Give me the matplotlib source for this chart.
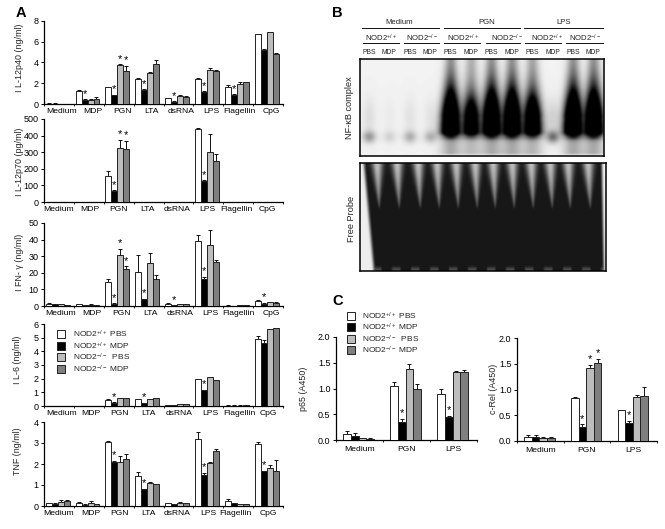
import numpy as np
import matplotlib
matplotlib.use('Agg')
import matplotlib.pyplot as plt
from matplotlib.patches import Rectangle

plt.rcParams['font.family'] = ['Liberation Sans', 'DejaVu Sans']
plt.rcParams['mathtext.default'] = 'regular'
plt.rcParams['text.color'] = '#222222'

W, H = 665, 529

stimuli = ['Medium', 'MDP', 'PGN', 'LTA', 'dsRNA', 'LPS', 'Flagellin', 'CpG']
stimuli_c = ['Medium', 'PGN', 'LPS']
legend_labels = ['NOD2$^{+/+}$ PBS', 'NOD2$^{+/+}$ MDP', 'NOD2$^{-/-}$  PBS', 'NOD2$^{-/-}$ MDP']
bar_colors = ['#ffffff', '#000000', '#bdbdbd', '#7f7f7f']

il12p40 = [[.03, .03, .03, .03], [1.3, .42, .42, .45], [1.65, .85, 3.8, 3.2], [2.45, 1.35, 2.95, 3.9],
           [.55, .2, .75, .65], [2.4, 1.2, 3.25, 3.2], [1.65, .85, 1.9, 2.1], [6.75, 5.2, 6.9, 4.8]]
il12p40_err = [[.05, .02, .01, .01], [.03, .05, .03, .2], [.03, .05, .05, .5], [.03, .05, .1, .3],
               [.05, .05, .15, .08], [.08, .05, .25, .03], [.15, .08, .2, .05], [.03, .1, .05, .1]]
il12p40_stars = [(1, 1), (2, 1), (2, 2), (2, 3), (3, 1), (4, 1), (5, 1), (6, 1)]

il12p70 = [[0] * 4, [0] * 4, [158, 65, 325, 320], [0] * 4, [0] * 4, [442, 128, 300, 248], [0] * 4, [0] * 4]
il12p70_err = [[0] * 4, [0] * 4, [28, 5, 50, 50], [0] * 4, [0] * 4, [3, 3, 110, 40], [0] * 4, [0] * 4]
il12p70_stars = [(2, 1), (2, 2), (2, 3), (5, 1)]

ifng = [[1.5, 1, 1.3, .7], [1.2, .7, .9, .7], [14.5, 1.5, 30.5, 22.5], [20.5, 4, 26, 16.5],
        [1.5, .5, 1.2, 1.3], [39, 16.5, 36.5, 26.5], [.3, .2, .4, .4], [3.2, 1.5, 2.5, 2]]
ifng_err = [[.2, .2, .2, .1], [.2, .1, .1, .1], [1.5, .2, 4, 1.5], [10.5, .3, 6, 2],
            [.2, .1, .1, .1], [3.5, 1, 9, 1.5], [.05, .05, .05, .05], [.3, .5, .2, .2]]
ifng_stars = [(2, 1), (2, 2), (2, 3), (3, 1), (4, 1), (5, 1), (7, 1)]

il6 = [[0] * 4, [0] * 4, [.45, .25, .55, .6], [.5, .2, .5, .55],
       [.05, .05, .12, .17], [1.95, 1.15, 2.1, 1.9], [.03, .03, .03, .05], [4.9, 4.6, 5.6, 5.7]]
il6_err = [[0] * 4, [0] * 4, [.03, .03, .02, .02], [.02, .03, .02, .05],
           [.01, .01, .01, .01], [.05, .03, .03, .02], [.01, .01, .01, .03], [.25, .2, .06, .03]]
il6_stars = [(2, 1), (3, 1), (5, 1)]

tnf = [[.12, .1, .18, .22], [.15, .07, .14, .08], [3.05, 2.1, 2.1, 2.22], [1.45, .8, 1.1, 1.05],
       [.12, .08, .15, .12], [3.2, 1.48, 2.05, 2.62], [.22, .12, .1, .1], [2.95, 1.65, 1.8, 1.65]]
tnf_err = [[.02, .02, .1, .05], [.03, .02, .1, .02], [.03, .05, .3, .25], [.15, .03, .03, .02],
           [.02, .02, .02, .03], [.32, .1, .03, .08], [.12, .01, .01, .01], [.12, .03, .15, .55]]
tnf_stars = [(2, 1), (3, 1), (5, 1), (7, 1)]

p65 = [[.12, .08, .03, .02], [1.05, .35, 1.38, 1.0], [.9, .44, 1.33, 1.33]]
p65_err = [[.05, .05, .01, .01], [.08, .06, .1, .09], [.09, .03, .01, .02]]
p65_stars = [(1, 1), (2, 1)]

crel = [[.07, .07, .06, .05], [.83, .28, 1.42, 1.52], [.6, .35, .85, .87]]
crel_err = [[.04, .04, .02, .02], [.03, .05, .06, .08], [.01, .04, .04, .18]]
crel_stars = [(1, 1), (1, 2), (1, 3), (2, 1)]

# band strength of the 12 lanes in the gel
lane_strength = [.22, .08, .17, .16, 1.0, .75, 1.0, 1.0, .85, .32, 1.0, 1.0]
# centres of the pale wedges at the top of the free probe gel
wedge_x = [377, 397, 418, 437, 456, 475, 493, 512, 531, 550, 568, 588]

fig = plt.figure(figsize=(W / 100, H / 100), dpi=100)


def ax_px(left, top, right, bottom):
    return fig.add_axes([left / W, 1 - bottom / H, (right - left) / W, (bottom - top) / H])


def ftext(x, y, s, **kw):
    kw.setdefault('ha', 'center')
    kw.setdefault('va', 'center')
    kw.setdefault('fontsize', 6.2)
    return fig.text(x / W, 1 - y / H, s, **kw)


def soften(img, nx, ny):
    kx = np.hanning(nx + 2)[1:-1]
    ky = np.hanning(ny + 2)[1:-1]
    pad = max(nx, ny)
    out = np.pad(img, pad, mode='edge')
    out = np.apply_along_axis(lambda r: np.convolve(r, kx / kx.sum(), mode='same'), 1, out)
    out = np.apply_along_axis(lambda c: np.convolve(c, ky / ky.sum(), mode='same'), 0, out)
    return out[pad:-pad, pad:-pad]


def bar_panel(box, vals, errs, stars, ymax, yticks, ylabels, labels, label_off, start, bw, pad=3):
    ax = ax_px(*box)
    vals = np.array(vals, float)
    errs = np.array(errs, float)
    n = len(vals)
    for k in range(4):
        x = np.arange(n) + start + bw * k
        keep = vals[:, k] > 0
        ax.bar(x[keep], vals[keep, k], bw, align='edge', color=bar_colors[k], edgecolor='#222222', linewidth=.7, zorder=3)
        ax.errorbar(x[keep] + bw / 2, vals[keep, k], yerr=[0 * errs[keep, k], errs[keep, k]], fmt='none',
                    ecolor='#111111', elinewidth=.7, capsize=1.2, capthick=.7, zorder=2)
    for g, k in stars:
        ax.annotate('*', (g + start + bw * (k + .5), vals[g, k] + errs[g, k]), xytext=(0, .3),
                    textcoords='offset points', ha='center', va='bottom', fontsize=8, color='black', zorder=4)
    ax.set_xlim(0, n)
    ax.set_ylim(0, ymax)
    ax.set_yticks(yticks)
    ax.set_yticklabels(ylabels, fontsize=6.5)
    ax.set_xticks(np.arange(n + 1))
    ax.set_xticklabels([])
    ax.set_xticks(np.arange(n) + .5 + np.array(label_off), minor=True)
    ax.set_xticklabels(labels, minor=True, fontsize=6.1)
    ax.tick_params(axis='x', which='major', length=1.5, width=.6)
    ax.tick_params(axis='x', which='minor', length=0, pad=pad)
    ax.tick_params(axis='y', length=2.5, width=.7, pad=1.5)
    for s in ['top', 'right']:
        ax.spines[s].set_visible(False)
    for s in ['left', 'bottom']:
        ax.spines[s].set_linewidth(.9)
    ax.patch.set_alpha(0)
    return ax


def legend_box(x, ys, tx):
    for y, c, lab in zip(ys, bar_colors, legend_labels):
        fig.add_artist(Rectangle((x / W, 1 - (y + 3.7) / H), 7.5 / W, 7.5 / H, transform=fig.transFigure,
                                 facecolor=c, edgecolor='#222222', linewidth=.7))
        ftext(tx, y, lab, ha='left', fontsize=6)


def gel_top():
    ax = ax_px(360, 59, 604, 156)
    px = np.arange(244 * 2) / 2 + 360
    y = (np.arange(97 * 2) / 2 / 97)[:, None]
    light = np.ones((len(y), len(px)))
    for i, s in enumerate(lane_strength):
        xc = 369 + 20.4 * i
        if s > .5:
            wide = 6 + 4.5 * y
            lane = np.exp(-((px - xc) / wide) ** 2)
            core = 2.2 * s * np.exp(-((y - .68) / (.14 + .2 * s)) ** 2)
            core = np.where(y > .74, 2.2 * s * np.exp(-((y - .74) / .06) ** 2), core)
            smear = .36 * s * np.clip(1.2 - y, 0, 1) * (y < .6) + .3 * s * (y > .8) * (y < .98)
        else:
            lane = np.exp(-((px - xc) / 6.5) ** 2)
            core = 1.6 * s * np.exp(-((y - .80) / .06) ** 2)
            smear = .4 * s * np.exp(-((y - .6) / .2) ** 2)
        light *= 1 - np.clip(lane * (core + smear), 0, 1)
    img = soften(light * .95, 7, 9)
    ax.imshow(img, cmap='gray', vmin=0, vmax=1, aspect='auto', interpolation='bilinear')
    ax.set_xticks([])
    ax.set_yticks([])
    for s in ax.spines.values():
        s.set_linewidth(1.1)


def gel_free():
    ax = ax_px(360, 163, 606, 271)
    px = np.arange(246 * 2) / 2 + 360
    y = (np.arange(108 * 2) / 2 / 108)[:, None]
    wedge = np.zeros((len(y), len(px)))
    fade = np.clip(1 - y / .42, 0, 1)
    for xc in wedge_x:
        wid = 5 * fade + .6
        wedge = np.maximum(wedge, .68 * np.exp(-((px - xc - 5 * y) / wid) ** 2) * fade ** .45)
    edge_l = np.clip((366 + 10 * y - px) / 4, 0, 1)
    edge_r = np.clip((px - 600 - 2 * y) / 3, 0, 1)
    ripple = .22 * np.clip((y - .95) / .03, 0, 1) * (np.cos((px - 377) * 2 * np.pi / 19) > .2)
    img = .09 + wedge
    img = np.maximum(img, ripple + .09)
    img = np.maximum(img, .93 * np.maximum(edge_l, edge_r))
    img = soften(img, 5, 7)
    ax.imshow(img, cmap='gray', vmin=0, vmax=1, aspect='auto', interpolation='bilinear')
    ax.set_xticks([])
    ax.set_yticks([])
    for s in ax.spines.values():
        s.set_linewidth(1.1)


# panel A
bar_panel((44, 21, 283, 104), il12p40, il12p40_err, il12p40_stars, 8, [0, 2, 4, 6, 8], ['0', '2', '4', '6', '8'],
          stimuli, [.1, .13, .13, .1, .1, .1, .03, .1], .057, .2)
bar_panel((44, 119, 283, 202), il12p70, il12p70_err, il12p70_stars, 500, [0, 100, 200, 300, 400, 500],
          ['0', '100', '200', '300', '400', '500'], stimuli, [0, .03, 0, -.03, -.03, -.03, -.07, -.03], .057, .2)
bar_panel((44, 223, 283, 306), ifng, ifng_err, ifng_stars, 50, [0, 10, 20, 30, 40, 50],
          ['0', '10', '20', '30', '40', '50'], stimuli, [.07, .1, .1, .07, .07, .07, 0, .1], .057, .2)
bar_panel((44, 324, 283, 406), il6, il6_err, il6_stars, 6, range(7), [str(i) for i in range(7)],
          stimuli, [.1, .07, .03, 0, .03, .07, .03, 0], .057, .2)
bar_panel((44, 422, 283, 506), tnf, tnf_err, tnf_stars, 4, range(5), [str(i) for i in range(5)],
          stimuli, [0, .07, .03, 0, -.03, 0, -.1, 0], .057, .2)

ftext(20, 58, 'I L-12p40 (ng/ml)', rotation=90, fontsize=6.4)
ftext(20, 162, 'I L-12p70 (pg/ml)', rotation=90, fontsize=6.4)
ftext(20, 262, 'I FN- γ (ng/ml)', rotation=90, fontsize=6.4)
ftext(18, 360, 'I L-6 (ng/ml)', rotation=90, fontsize=6.4)
ftext(18, 451, 'TNF (ng/ml)', rotation=90, fontsize=6.4)
legend_box(57, [334, 346, 357, 369], 73)

# panel B
gel_top()
gel_free()
for x, s in zip([399, 487, 564], ['Medium', 'PGN', 'LPS']):
    ftext(x, 22, s, fontsize=5.6)
for x0, x1 in [(362, 439), (444, 520), (524, 603)]:
    fig.add_artist(plt.Line2D([x0 / W, x1 / W], [1 - 28 / H] * 2, color='#111111', lw=.7))
geno_x = [381, 422, 463, 507, 547, 585]
geno_line = [(363, 399), (404, 439), (444, 480), (486, 520), (525, 561), (566, 603)]
for i, (x, seg) in enumerate(zip(geno_x, geno_line)):
    ftext(x, 38, 'NOD2$^{+/+}$' if i % 2 == 0 else 'NOD2$^{-/-}$', fontsize=5.6)
    fig.add_artist(plt.Line2D([seg[0] / W, seg[1] / W], [1 - 43 / H] * 2, color='#111111', lw=.7))
for i in range(12):
    ftext(369 + 20.4 * i, 52, 'PBS' if i % 2 == 0 else 'MDP', fontsize=4.9)
ftext(350, 108, 'NF-κB complex', rotation=90, fontsize=6.6)
ftext(351, 219, 'Free Probe', rotation=90, fontsize=6.6)

# panel C
bar_panel((336, 337, 477, 440), p65, p65_err, p65_stars, 2, [0, .5, 1, 1.5, 2], ['0.0', '0.5', '1.0', '1.5', '2.0'],
          stimuli_c, [0, 0, 0], .155, .163, pad=4)
bar_panel((517, 338, 657, 441), crel, crel_err, crel_stars, 2, [0, .5, 1, 1.5, 2], ['0.0', '0.5', '1.0', '1.5', '2.0'],
          stimuli_c, [0, 0, 0], .155, .163, pad=4)
ftext(303, 389, 'p65 (A450)', rotation=90, fontsize=6.4)
ftext(493, 389, 'c-Rel (A450)', rotation=90, fontsize=6.4)
legend_box(347, [316, 327, 339, 350], 362)

for x, y, s in [(21, 13, 'A'), (337, 13, 'B'), (338, 301, 'C')]:
    ftext(x, y, s, fontsize=10.5, fontweight='bold', color='black')

fig.savefig('out.png', dpi=100)
